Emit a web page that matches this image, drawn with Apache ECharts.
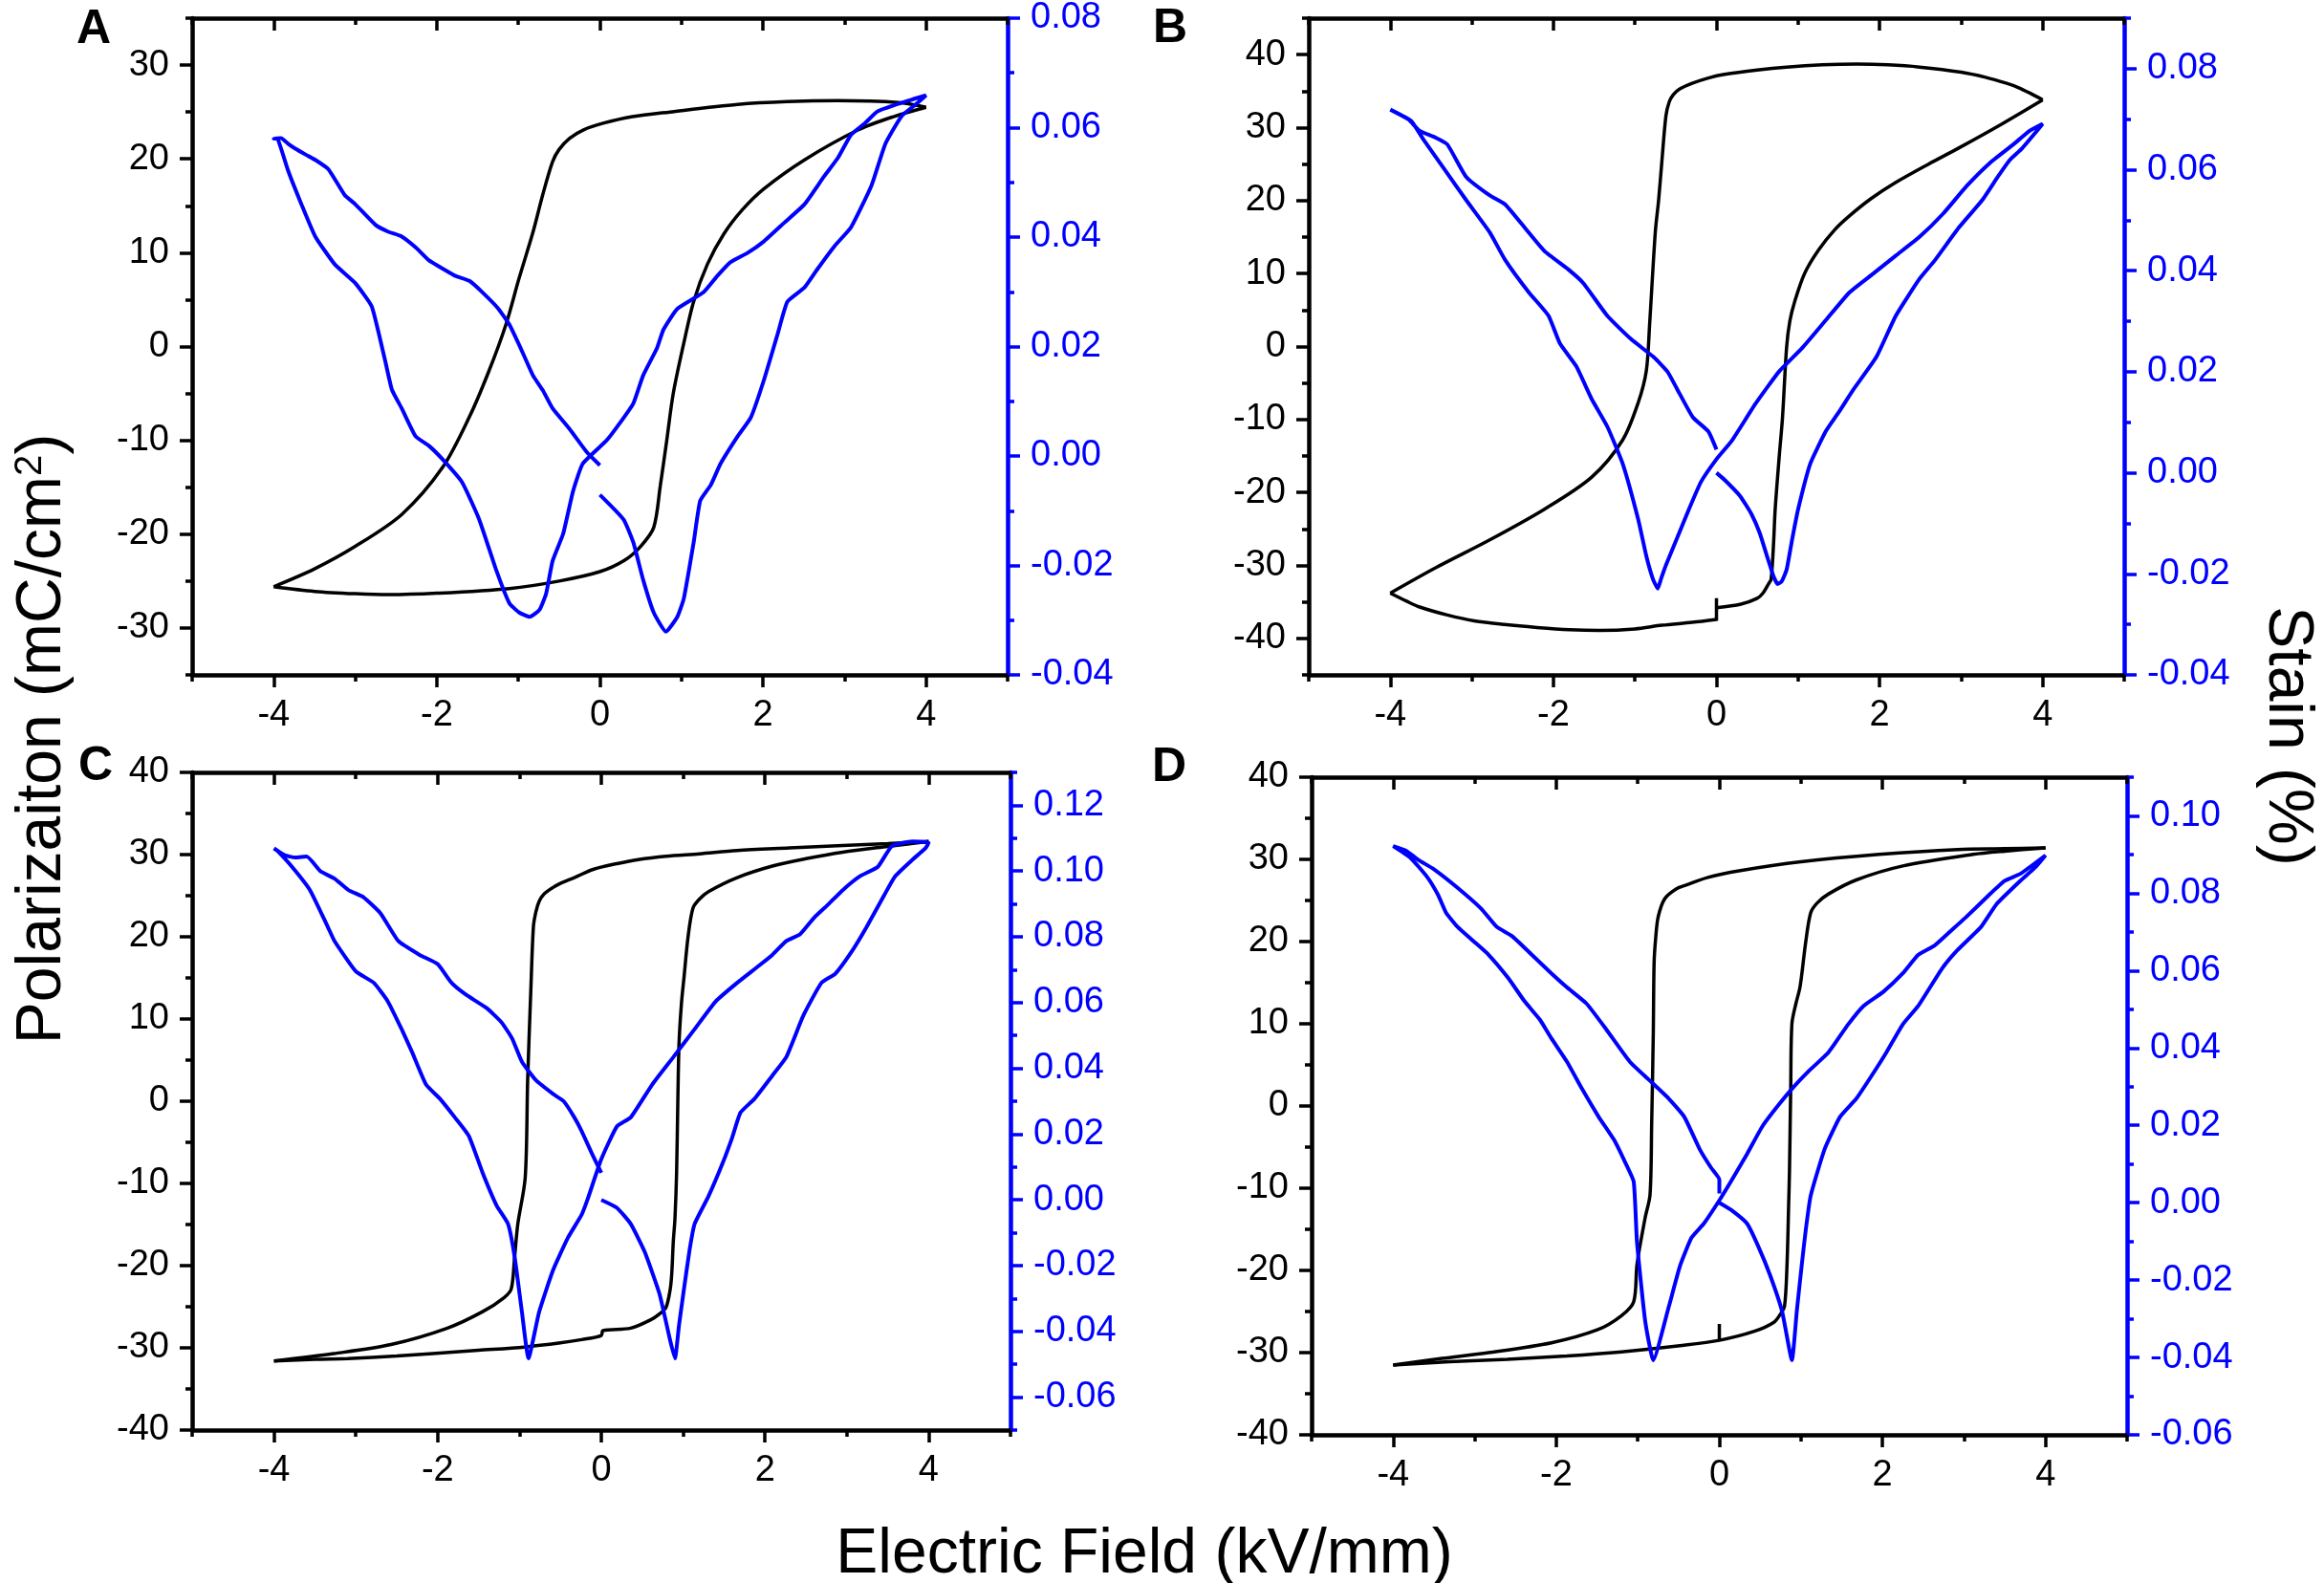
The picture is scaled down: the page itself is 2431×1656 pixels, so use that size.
<!DOCTYPE html>
<html>
<head>
<meta charset="utf-8">
<script src="https://cdn.jsdelivr.net/npm/echarts@6.0.0/dist/echarts.min.js"></script>
<style>
html, body { margin: 0; padding: 0; background: #fff; }
#container { width: 2431px; height: 1656px; }
</style>
</head>
<body>
<div id="container"></div>
<script>
var dom = document.getElementById('container');
var myChart = echarts.init(dom);

// electric field axis, shared by all four panels
var fieldMajor = [-4, -2, 0, 2, 4];
var fieldMinor = [-5, -3, -1, 1, 3, 5];

// ---- panel A ----
var polA_rise = [[-4,-25.6],[-3.5,-26.1],[-3.0,-26.35],[-2.59,-26.45],[-2.0,-26.3],[-1.11,-25.8],[-0.5,-25.0],[0,-24.0],[0.3,-22.8],[0.5,-21.3],[0.66,-19.3],[0.74,-14.9],[0.82,-10],[0.9,-5],[1.03,0.4],[1.15,4.8],[1.32,8.8],[1.52,12.0],[1.75,14.6],[2.01,16.8],[2.51,19.9],[3.17,23.1],[3.6,24.5],[4,25.5]];
var polA_fall = [[4,25.5],[3.66,26.0],[2.92,26.2],[2.3,26.1],[1.69,25.8],[0.86,25.0],[0.4,24.5],[0.04,23.8],[-0.2,23.1],[-0.37,22.2],[-0.5,21.0],[-0.58,19.7],[-0.70,16.2],[-0.82,12.2],[-0.99,7.3],[-1.15,2.4],[-1.36,-2.6],[-1.60,-7.5],[-1.93,-12.9],[-2.43,-17.9],[-3.0,-21.3],[-3.5,-23.7],[-4,-25.6]];
var strainA = [[0,-0.0071],[0.29,-0.0116],[0.41,-0.0158],[0.53,-0.0226],[0.66,-0.0286],[0.81,-0.0321],[0.95,-0.0294],[1.03,-0.026],[1.15,-0.0158],[1.23,-0.0082],[1.36,-0.0053],[1.48,-0.0014],[1.69,0.0036],[1.85,0.007],[2.01,0.0138],[2.18,0.0223],[2.30,0.0282],[2.51,0.0308],[2.67,0.0342],[2.88,0.0384],[3.08,0.0418],[3.33,0.0494],[3.5,0.057],[3.7,0.0621],[3.87,0.0642],[4,0.0659],
  [3.82,0.0651],[3.41,0.063],[3.25,0.0608],[3.08,0.0587],[2.92,0.0545],[2.75,0.0511],[2.51,0.046],[2.26,0.0426],[2.01,0.0392],[1.81,0.0371],[1.60,0.0354],[1.44,0.0329],[1.27,0.0299],[0.95,0.0269],[0.78,0.0231],[0.70,0.0197],[0.53,0.0147],[0.41,0.0096],[0.21,0.0053],[0.08,0.0028],[-0.21,-0.0014],[-0.33,-0.0065],[-0.45,-0.0142],[-0.58,-0.0192],[-0.66,-0.0252],[-0.74,-0.0281],[-0.86,-0.0294],[-0.99,-0.0286],[-1.11,-0.0269],[-1.27,-0.0209],[-1.48,-0.0116],[-1.69,-0.0048],[-1.93,-0.0006],[-2.10,0.0019],[-2.26,0.0036],[-2.43,0.0087],[-2.55,0.0121],[-2.63,0.0172],[-2.71,0.0223],[-2.80,0.0274],[-3.0,0.0316],[-3.25,0.035],[-3.49,0.0401],[-3.66,0.046],[-3.82,0.052],[-3.95,0.0579],[-4,0.058],
  [-3.91,0.0581],[-3.82,0.057],[-3.74,0.0562],[-3.6,0.055],[-3.49,0.0541],[-3.33,0.0524],[-3.13,0.0477],[-3.0,0.046],[-2.75,0.0422],[-2.6,0.041],[-2.43,0.0401],[-2.25,0.038],[-2.10,0.0358],[-1.9,0.034],[-1.77,0.0329],[-1.6,0.032],[-1.44,0.0299],[-1.25,0.027],[-1.11,0.024],[-0.95,0.019],[-0.82,0.0147],[-0.7,0.012],[-0.58,0.0087],[-0.37,0.0049],[-0.16,0.0007],[0,-0.0017]];

// ---- panel B ----
var polB_rise = [[-4,-33.8],[-3.8,-34.9],[-3.64,-35.7],[-3.3,-36.8],[-2.97,-37.6],[-2.6,-38.1],[-2.2,-38.5],[-1.8,-38.8],[-1.44,-38.9],[-1.0,-38.7],[-0.67,-38.2],[-0.3,-37.8],[0,-37.4]];
var polB_step = [[0,-37.6],[0,-34.5]];
var polB_rise2 = [[0,-35.8],[0.3,-35.3],[0.5,-34.5],[0.57,-33.8],[0.64,-32.5],[0.67,-31.9],[0.70,-27],[0.72,-22.3],[0.77,-15],[0.81,-9.7],[0.86,-0.1],[0.9,3.5],[0.96,6.2],[1.08,10],[1.25,13.2],[1.45,16.0],[1.63,17.9],[1.9,20.3],[2.2,22.5],[2.6,25],[2.97,27.2],[3.5,30.5],[4,33.8]];
var polB_fall = [[4,33.8],[3.85,34.7],[3.7,35.5],[3.55,36.1],[3.3,36.9],[3.0,37.6],[2.49,38.3],[2.1,38.6],[1.72,38.7],[1.3,38.6],[0.86,38.3],[0.5,37.9],[0.1,37.3],[-0.1,36.8],[-0.29,36.1],[-0.45,35.3],[-0.53,34.5],[-0.58,33.5],[-0.62,31.6],[-0.67,25.3],[-0.71,20],[-0.75,15.7],[-0.82,3.0],[-0.86,-3.3],[-0.96,-7.7],[-1.15,-12.8],[-1.53,-17.9],[-2.11,-22.3],[-2.78,-26.5],[-3.44,-30.3],[-4,-33.8]];
var strainB = [[0,0.0],[0.1,-0.0014],[0.29,-0.0046],[0.43,-0.0082],[0.53,-0.0119],[0.62,-0.0165],[0.7,-0.0205],[0.75,-0.022],[0.8,-0.0215],[0.86,-0.0192],[0.93,-0.013],[1.0,-0.0073],[1.15,0.0018],[1.34,0.0082],[1.5,0.012],[1.68,0.0165],[1.96,0.0229],[2.2,0.0311],[2.49,0.0384],[2.68,0.0421],[2.97,0.0485],[3.26,0.054],[3.45,0.0586],[3.6,0.062],[3.74,0.0641],[3.93,0.0677],[4,0.0691],
  [3.84,0.0677],[3.64,0.065],[3.35,0.0613],[3.07,0.0568],[2.78,0.0513],[2.49,0.0467],[2.2,0.043],[1.92,0.0394],[1.63,0.0357],[1.34,0.0302],[1.05,0.0247],[0.77,0.0201],[0.48,0.0137],[0.19,0.0064],[0,0.0027],[-0.19,-0.0018],[-0.34,-0.0073],[-0.48,-0.0128],[-0.62,-0.0183],[-0.68,-0.021],[-0.72,-0.0229],[-0.78,-0.021],[-0.86,-0.0165],[-0.96,-0.0092],[-1.15,0.0018],[-1.34,0.0092],[-1.53,0.0146],[-1.72,0.0211],[-1.92,0.0256],[-2.06,0.0311],[-2.3,0.0357],[-2.59,0.0421],[-2.78,0.0476],[-3.07,0.054],[-3.35,0.0604],[-3.59,0.0659],[-3.74,0.0696],[-3.88,0.0709],[-4,0.0719],
  [-3.78,0.07],[-3.64,0.0677],[-3.45,0.0664],[-3.3,0.065],[-3.07,0.0586],[-2.78,0.0549],[-2.59,0.0531],[-2.35,0.0485],[-2.11,0.0439],[-1.82,0.0403],[-1.63,0.0375],[-1.34,0.0311],[-1.05,0.0265],[-0.77,0.0229],[-0.6,0.02],[-0.48,0.0165],[-0.29,0.011],[-0.1,0.0082],[0,0.0046]];

// ---- panel C ----
var polC_rise = [[-4,-31.6],[-3.5,-31.4],[-3.1,-31.3],[-2.5,-31.0],[-2.06,-30.7],[-1.5,-30.3],[-0.94,-29.9],[-0.5,-29.4],[-0.24,-29.0],[0,-28.5],[0.02,-27.9],[0.36,-27.6],[0.62,-26.5],[0.72,-25.8],[0.79,-25.1],[0.84,-23],[0.86,-21.1],[0.88,-17],[0.9,-14.3],[0.92,-8.7],[0.935,0],[0.95,7.1],[0.98,12],[1.01,15.0],[1.06,20],[1.12,23.5],[1.2,24.6],[1.31,25.5],[1.66,27.2],[2.09,28.6],[2.5,29.5],[2.95,30.3],[3.5,31.0],[4,31.6]];
var polC_fall = [[4,31.6],[3.5,31.35],[2.95,31.1],[2.3,30.8],[1.66,30.5],[1.2,30.1],[0.79,29.8],[0.45,29.4],[0.19,28.9],[-0.1,28.2],[-0.33,27.2],[-0.5,26.5],[-0.59,26.0],[-0.7,25.2],[-0.76,24.3],[-0.8,23],[-0.83,21.2],[-0.86,13.9],[-0.9,2.6],[-0.93,-9.3],[-1.02,-14.9],[-1.06,-19],[-1.1,-22.8],[-1.19,-23.9],[-1.45,-25.6],[-1.88,-27.6],[-2.57,-29.6],[-3.27,-30.7],[-4,-31.6]];
var strainC = [[0,0.0],[0.19,-0.0024],[0.36,-0.0073],[0.53,-0.0158],[0.71,-0.0285],[0.84,-0.0426],[0.9,-0.0482],[0.95,-0.038],[1.01,-0.0271],[1.08,-0.015],[1.14,-0.0073],[1.31,0.0011],[1.48,0.011],[1.6,0.019],[1.7,0.0265],[1.87,0.0307],[2.09,0.0378],[2.26,0.0434],[2.47,0.0561],[2.69,0.066],[2.86,0.0688],[3.07,0.0759],[3.24,0.0829],[3.46,0.0928],[3.59,0.0984],[3.8,0.1034],[3.96,0.1069],[4,0.1086],
  [3.8,0.109],[3.55,0.1076],[3.38,0.1013],[3.16,0.0984],[2.95,0.0942],[2.78,0.09],[2.6,0.0858],[2.43,0.0808],[2.26,0.0787],[2.09,0.0745],[1.91,0.0709],[1.66,0.066],[1.4,0.0604],[1.14,0.0519],[0.88,0.0434],[0.62,0.035],[0.36,0.0251],[0.19,0.0223],[0,0.0124],[-0.17,0.0],[-0.24,-0.0045],[-0.41,-0.0116],[-0.59,-0.0214],[-0.76,-0.0341],[-0.89,-0.0482],[-0.97,-0.0341],[-1.06,-0.0172],[-1.14,-0.0073],[-1.28,-0.0017],[-1.45,0.0082],[-1.62,0.0195],[-1.79,0.0251],[-1.97,0.0307],[-2.14,0.035],[-2.31,0.0448],[-2.44,0.0519],[-2.61,0.0604],[-2.78,0.066],[-3.0,0.0695],[-3.26,0.0787],[-3.34,0.0829],[-3.56,0.0942],[-3.78,0.1013],[-3.96,0.1062],[-4,0.1069],
  [-3.87,0.1048],[-3.74,0.1041],[-3.6,0.1044],[-3.43,0.0999],[-3.26,0.0977],[-3.09,0.0942],[-2.91,0.0921],[-2.7,0.0872],[-2.48,0.0787],[-2.22,0.0745],[-2.0,0.0717],[-1.83,0.066],[-1.66,0.0625],[-1.4,0.0583],[-1.22,0.054],[-1.09,0.0491],[-0.97,0.042],[-0.8,0.0364],[-0.59,0.0322],[-0.46,0.03],[-0.33,0.0251],[-0.24,0.0209],[-0.11,0.0138],[0,0.0082]];

// ---- panel D ----
var polD_rise = [[-4,-31.5],[-3.31,-31.1],[-2.6,-30.8],[-1.87,-30.4],[-1.2,-29.9],[-0.43,-29.1],[0,-28.5],[0.43,-27.4],[0.67,-26.3],[0.75,-25.3],[0.8,-24.3],[0.83,-19.3],[0.85,-12],[0.86,-8.0],[0.875,2],[0.89,10.0],[0.94,12.5],[0.99,14.5],[1.06,20],[1.12,23.5],[1.2,24.7],[1.34,25.8],[1.68,27.5],[2.25,29.2],[3.11,30.6],[3.5,31.0],[4,31.4]];
var polD_step = [[0,-28.6],[0,-26.5]];
var polD_fall = [[4,31.4],[3.5,31.3],[2.92,31.2],[1.96,30.6],[1.0,29.7],[0.24,28.6],[-0.14,27.8],[-0.4,26.9],[-0.53,26.4],[-0.67,25.2],[-0.75,23.0],[-0.78,20.5],[-0.8,17.4],[-0.81,8.9],[-0.83,-2.4],[-0.85,-10.8],[-0.91,-13.6],[-1.01,-19.3],[-1.05,-23.8],[-1.2,-25.5],[-1.49,-27.2],[-2.06,-28.8],[-2.83,-30.0],[-3.4,-30.7],[-4,-31.5]];
var strainD = [[0,0.0],[0.14,-0.0018],[0.34,-0.0054],[0.48,-0.0114],[0.62,-0.0186],[0.77,-0.0281],[0.89,-0.0407],[0.95,-0.028],[1.01,-0.0162],[1.06,-0.007],[1.12,0.0018],[1.29,0.0138],[1.48,0.0222],[1.68,0.0269],[1.87,0.0329],[2.05,0.0389],[2.25,0.0461],[2.44,0.0509],[2.73,0.0605],[2.92,0.0653],[3.21,0.0713],[3.4,0.0772],[3.69,0.0832],[3.88,0.0868],[4,0.0898],
  [3.69,0.085],[3.5,0.0832],[3.31,0.0796],[3.02,0.0737],[2.83,0.0701],[2.64,0.0665],[2.44,0.0641],[2.25,0.0593],[2.01,0.0545],[1.77,0.0509],[1.58,0.0461],[1.34,0.0389],[1.1,0.0341],[0.91,0.0299],[0.72,0.0251],[0.53,0.0198],[0.34,0.0126],[0.14,0.0054],[0,0.0006],[-0.19,-0.0054],[-0.34,-0.009],[-0.48,-0.0162],[-0.62,-0.0269],[-0.81,-0.0407],[-0.91,-0.0305],[-1.01,-0.0102],[-1.05,0.0054],[-1.15,0.0102],[-1.29,0.0162],[-1.48,0.0222],[-1.68,0.0293],[-1.87,0.0365],[-2.06,0.0425],[-2.2,0.0473],[-2.39,0.0521],[-2.59,0.0581],[-2.83,0.0641],[-3.02,0.0677],[-3.21,0.0713],[-3.35,0.0749],[-3.45,0.0796],[-3.59,0.0844],[-3.79,0.0892],[-4,0.0922],
  [-3.84,0.091],[-3.69,0.0886],[-3.5,0.0862],[-3.21,0.0814],[-2.92,0.076],[-2.73,0.0713],[-2.54,0.0689],[-2.3,0.0641],[-2.06,0.0593],[-1.87,0.0557],[-1.63,0.0515],[-1.39,0.0449],[-1.1,0.0365],[-0.86,0.0317],[-0.62,0.0269],[-0.43,0.0222],[-0.24,0.0138],[-0.1,0.009],[0,0.006],[0,0.0024]];

// axis ranges and tick values per panel
var polRange    = [[-35,35],[-45,45],[-40,40],[-40,40]];
var polMajor    = [[-30,-20,-10,0,10,20,30],[-40,-30,-20,-10,0,10,20,30,40],[-40,-30,-20,-10,0,10,20,30,40],[-40,-30,-20,-10,0,10,20,30,40]];
var polMinor    = [[-35,-25,-15,-5,5,15,25,35],[-45,-35,-25,-15,-5,5,15,25,35,45],[-35,-25,-15,-5,5,15,25,35],[-35,-25,-15,-5,5,15,25,35]];
var strainRange = [[-0.04,0.08],[-0.04,0.09],[-0.07,0.13],[-0.06,0.11]];
var strainMajor = [[-0.04,-0.02,0,0.02,0.04,0.06,0.08],[-0.04,-0.02,0,0.02,0.04,0.06,0.08],[-0.06,-0.04,-0.02,0,0.02,0.04,0.06,0.08,0.10,0.12],[-0.06,-0.04,-0.02,0,0.02,0.04,0.06,0.08,0.10]];
var strainMinor = [[-0.03,-0.01,0.01,0.03,0.05,0.07],[-0.03,-0.01,0.01,0.03,0.05,0.07,0.09],[-0.07,-0.05,-0.03,-0.01,0.01,0.03,0.05,0.07,0.09,0.11,0.13],[-0.05,-0.03,-0.01,0.01,0.03,0.05,0.07,0.09,0.11]];
var panelLetters = ['A', 'B', 'C', 'D'];

var grids = [
    {left: 201, top: 19, width: 853, height: 687},
    {left: 1369, top: 19, width: 853, height: 687},
    {left: 201, top: 808, width: 856, height: 688},
    {left: 1372, top: 813, width: 853, height: 688}
];
var letterPos = [[98, 31], [1224, 30], [100, 802], [1223, 803]];

var FONT = 'Liberation Sans, Arial, sans-serif';
var BLUE = '#0000ff';
var MAJOR_LEN = 13, MINOR_LEN = 7;

function makeAxis(gi, pos, range, ticks, len, inside, color, withLine, labelFmt) {
    return {
        type: 'value',
        gridIndex: gi,
        position: pos,
        min: range[0],
        max: range[1],
        splitLine: {show: false},
        axisLine: {show: withLine, onZero: false, lineStyle: {color: color, width: 4.5}},
        axisTick: {show: true, inside: inside, length: len, customValues: ticks,
                   lineStyle: {color: color, width: 3.5}},
        axisLabel: {
            show: !!labelFmt,
            customValues: ticks,
            formatter: labelFmt,
            color: color,
            fontSize: 38,
            fontFamily: FONT,
            margin: 24
        }
    };
}

var xAxes = [], yAxes = [], series = [];
var polData = [
    [polA_rise, polA_fall],
    [polB_rise, polB_step, polB_rise2, polB_fall],
    [polC_rise, polC_fall],
    [polD_rise, polD_step, polD_fall]
];
var strainData = [strainA, strainB, strainC, strainD];

for (var i = 0; i < 4; i++) {
    var fr = [-5, 5];
    xAxes.push(makeAxis(i, 'bottom', fr, fieldMajor, MAJOR_LEN, false, '#000', true, function (v) { return String(v); }));
    xAxes.push(makeAxis(i, 'bottom', fr, fieldMinor, MINOR_LEN, false, '#000', false, null));
    xAxes.push(makeAxis(i, 'top', fr, fieldMajor, MAJOR_LEN, true, '#000', true, null));
    xAxes.push(makeAxis(i, 'top', fr, fieldMinor, MINOR_LEN, true, '#000', false, null));

    yAxes.push(makeAxis(i, 'left', polRange[i], polMajor[i], MAJOR_LEN, false, '#000', true, function (v) { return String(v); }));
    yAxes.push(makeAxis(i, 'left', polRange[i], polMinor[i], MINOR_LEN, false, '#000', false, null));
    yAxes.push(makeAxis(i, 'right', strainRange[i], strainMajor[i], MAJOR_LEN, false, BLUE, true, function (v) { return v.toFixed(2); }));
    yAxes.push(makeAxis(i, 'right', strainRange[i], strainMinor[i], MINOR_LEN, false, BLUE, false, null));

    polData[i].forEach(function (seg) {
        series.push({
            type: 'line',
            name: 'Polarization',
            xAxisIndex: 4 * i,
            yAxisIndex: 4 * i,
            data: seg,
            showSymbol: false,
            smooth: seg.length > 2 ? 0.3 : false,
            lineStyle: {color: '#000', width: 3.5},
            z: 3
        });
    });
    series.push({
        type: 'line',
        name: 'Strain',
        xAxisIndex: 4 * i,
        yAxisIndex: 4 * i + 2,
        data: strainData[i],
        showSymbol: false,
        smooth: 0.15,
        lineStyle: {color: BLUE, width: 4},
        z: 4
    });
}

var graphics = [];
for (var k = 0; k < 4; k++) {
    graphics.push({
        type: 'text', x: letterPos[k][0], y: letterPos[k][1],
        style: {text: panelLetters[k], fill: '#000', fontSize: 50, fontWeight: 'bold',
                fontFamily: FONT, align: 'center', verticalAlign: 'middle'}
    });
}
graphics.push({
    type: 'text', x: 45, y: 773, rotation: Math.PI / 2,
    style: {
        text: 'Polarizaiton (mC/cm{s|2})', fill: '#000', fontSize: 66, fontFamily: FONT,
        align: 'center', verticalAlign: 'middle',
        rich: {s: {fontSize: 40, fontFamily: FONT, fill: '#000', verticalAlign: 'top', lineHeight: 66}}
    }
});
graphics.push({
    type: 'text', x: 2392, y: 770, rotation: -Math.PI / 2,
    style: {text: 'Stain (%)', fill: '#000', fontSize: 66, fontFamily: FONT,
            align: 'center', verticalAlign: 'middle'}
});
graphics.push({
    type: 'text', x: 1197, y: 1627,
    style: {text: 'Electric Field (kV/mm)', fill: '#000', fontSize: 66, fontFamily: FONT,
            align: 'center', verticalAlign: 'middle'}
});

var option = {
    backgroundColor: '#fff',
    animation: false,
    grid: grids.map(function (g) {
        return {left: g.left, top: g.top, width: g.width, height: g.height,
                containLabel: false, outerBoundsMode: 'none'};
    }),
    xAxis: xAxes,
    yAxis: yAxes,
    series: series,
    graphic: graphics
};

myChart.setOption(option, true);
</script>
</body>
</html>
